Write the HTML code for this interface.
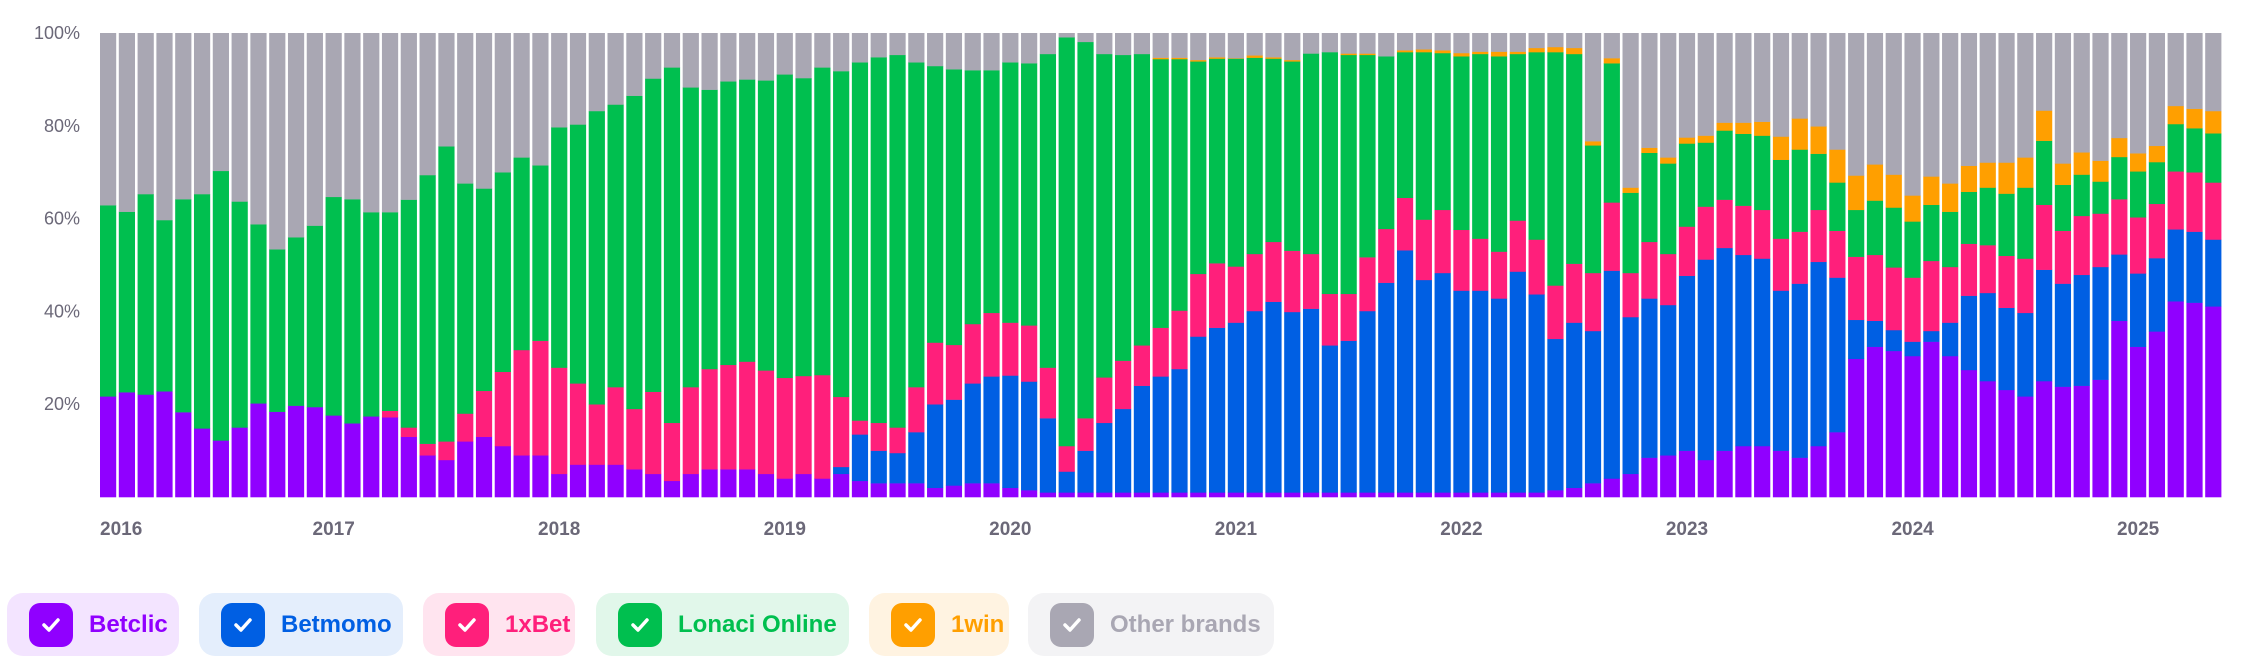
<!DOCTYPE html>
<html><head><meta charset="utf-8">
<style>
html,body{margin:0;padding:0;background:#fff;width:2242px;height:664px;overflow:hidden;font-family:"Liberation Sans",sans-serif;}
#c{position:absolute;left:0;top:0;}
.leg{position:absolute;top:593px;height:63px;border-radius:16px;display:flex;align-items:center;box-sizing:border-box;padding-left:22px;font-weight:bold;font-size:24px;}
.cb{width:44px;height:44px;border-radius:11px;margin-right:16px;display:flex;align-items:center;justify-content:center;}
</style></head><body>
<svg id="c" width="2242" height="664" xmlns="http://www.w3.org/2000/svg"></svg>
<div class="leg" style="left:7px;width:172px;background:#f3e4ff;color:#9000ff"><div class="cb" style="background:#9000ff"><svg width="24" height="24"><path d="M5 12l5 5 9-10" stroke="#fff" stroke-width="3.5" fill="none" stroke-linecap="round" stroke-linejoin="round"/></svg></div>Betclic</div>
<div class="leg" style="left:199px;width:204px;background:#e4eefc;color:#005fe3"><div class="cb" style="background:#005fe3"><svg width="24" height="24"><path d="M5 12l5 5 9-10" stroke="#fff" stroke-width="3.5" fill="none" stroke-linecap="round" stroke-linejoin="round"/></svg></div>Betmomo</div>
<div class="leg" style="left:423px;width:152px;background:#ffe4ef;color:#ff1f7b"><div class="cb" style="background:#ff1f7b"><svg width="24" height="24"><path d="M5 12l5 5 9-10" stroke="#fff" stroke-width="3.5" fill="none" stroke-linecap="round" stroke-linejoin="round"/></svg></div>1xBet</div>
<div class="leg" style="left:596px;width:253px;background:#e1f7ea;color:#00bf4f"><div class="cb" style="background:#00bf4f"><svg width="24" height="24"><path d="M5 12l5 5 9-10" stroke="#fff" stroke-width="3.5" fill="none" stroke-linecap="round" stroke-linejoin="round"/></svg></div>Lonaci Online</div>
<div class="leg" style="left:869px;width:140px;background:#fff3e1;color:#ff9f00"><div class="cb" style="background:#ff9f00"><svg width="24" height="24"><path d="M5 12l5 5 9-10" stroke="#fff" stroke-width="3.5" fill="none" stroke-linecap="round" stroke-linejoin="round"/></svg></div>1win</div>
<div class="leg" style="left:1028px;width:246px;background:#f3f3f5;color:#a9a7b3"><div class="cb" style="background:#a9a7b3"><svg width="24" height="24"><path d="M5 12l5 5 9-10" stroke="#fff" stroke-width="3.5" fill="none" stroke-linecap="round" stroke-linejoin="round"/></svg></div>Other brands</div>
<script>
// [purple, blueTop, pinkTop, greenTop, orangeTop]
var D=[
[21.7,21.7,21.7,62.9,62.9],[22.6,22.6,22.6,61.5,61.5],[22.1,22.1,22.1,65.3,65.3],[22.8,22.8,22.8,59.7,59.7],
[18.3,18.3,18.3,64.2,64.2],[14.8,14.8,14.8,65.3,65.3],[12.2,12.2,12.2,70.3,70.3],[15,15,15,63.7,63.7],
[20.2,20.2,20.2,58.8,58.8],[18.4,18.4,18.4,53.4,53.4],[19.7,19.7,19.7,56,56],[19.4,19.4,19.4,58.5,58.5],
[17.6,17.6,17.6,64.7,64.7],[15.9,15.9,15.9,64.2,64.2],[17.4,17.4,17.4,61.4,61.4],[17.2,17.2,18.6,61.4,61.4],
[13,13,15,64.1,64.1],[9,9,11.5,69.4,69.4],[8,8,12,75.6,75.6],[12,12,18,67.6,67.6],
[13,13,22.9,66.5,66.5],[11,11,27,70,70],[9,9,31.7,73.2,73.2],[9,9,33.7,71.5,71.5],
[5,5,27.9,79.7,79.7],[7,7,24.5,80.3,80.3],[7,7,20,83.2,83.2],[7,7,23.7,84.6,84.6],
[6,6,19,86.5,86.5],[5,5,22.7,90.2,90.2],[3.5,3.5,16,92.6,92.6],[5,5,23.7,88.3,88.3],
[6,6,27.6,87.8,87.8],[6,6,28.5,89.6,89.6],[6,6,29.2,90,90],[5,5,27.3,89.8,89.8],
[4,4,25.7,91.1,91.1],[5,5,26.1,90.3,90.3],[4,4,26.3,92.6,92.6],[5,6.5,21.6,91.8,91.8],
[3.5,13.5,16.5,93.7,93.7],[3,10,16,94.8,94.8],[3,9.5,15,95.3,95.3],[3,14,23.7,93.7,93.7],
[2,20,33.3,92.9,92.9],[2.5,21,32.8,92.2,92.2],[3,24.5,37.3,92,92],[3,26,39.7,92,92],
[2,26.2,37.6,93.7,93.7],[1.5,24.9,37,93.5,93.5],[1,17,27.9,95.5,95.5],[1,5.5,11,99.1,99.1],
[1,10,17,98.1,98.1],[1,16,25.8,95.5,95.5],[1,19,29.4,95.3,95.3],[1,24,32.7,95.5,95.5],
[1,26,36.5,94.4,94.7],[1,27.6,40.2,94.4,94.7],[1,34.6,48.1,93.9,94.2],[1,36.5,50.4,94.5,94.8],
[1,37.6,49.7,94.5,94.6],[1,40.1,52.4,94.7,95.2],[1,42.1,55,94.5,94.8],[1,39.9,53.1,93.9,94.2],
[1,40.6,52.4,95.6,95.6],[1,32.7,43.8,95.9,95.9],[1,33.7,43.8,95.3,95.6],[1,40.1,51.7,95.3,95.6],
[1,46.2,57.8,95,95],[1,53.2,64.5,95.9,96.3],[1,46.8,59.8,95.9,96.5],[1,48.3,61.9,95.7,96.3],
[1,44.5,57.6,95,95.7],[1,44.5,55.7,95.5,96],[1,42.8,52.9,95,96],[1,48.6,59.6,95.5,96],
[1,43.7,55.5,95.9,96.8],[1.5,34.1,45.6,95.9,97],[2,37.6,50.3,95.5,96.8],[3,35.8,48.3,75.8,76.7],
[4,48.8,63.5,93.5,94.6],[5,38.8,48.3,65.6,66.7],[8.5,42.8,55,74.2,75.3],[9,41.4,52.4,71.9,73.2],
[10,47.7,58.3,76.2,77.5],[8,51.2,62.6,76.4,77.9],[10,53.7,64.1,79,80.7],[11,52.2,62.8,78.3,80.7],
[11,51.4,61.9,77.9,80.9],[10,44.5,55.7,72.7,77.7],[8.5,46,57.2,74.9,81.6],[11,50.7,61.9,74,79.9],
[14,47.3,57.4,67.8,74.9],[29.8,38.2,51.8,61.9,69.3],[32.4,38,52.2,63.9,71.7],[31.5,36,49.5,62.4,69.5],
[30.4,33.5,47.3,59.4,65],[33.5,35.8,50.9,63,69.1],[30.4,37.6,49.6,61.5,67.6],[27.4,43.4,54.6,65.8,71.4],
[25,44,54.3,66.7,72.1],[23.1,40.8,52,65.4,72.1],[21.7,39.7,51.4,66.7,73.2],[25,49,63,76.8,83.3],
[23.8,46,57.4,67.3,71.9],[24,47.9,60.6,69.5,74.3],[25.3,49.6,61.1,68,72.5],[38,52.3,64.2,73.3,77.4],
[32.4,48.2,60.3,70.2,74.1],[35.7,51.5,63.2,72.2,75.7],[42.2,57.7,70.2,80.4,84.3],[41.9,57.2,70,79.5,83.7],
[41.1,55.5,67.8,78.4,83.2]];
var C=["#9000ff","#005fe3","#ff1f7b","#00bf4f","#ff9f00","#a9a7b3"];
var s=document.getElementById('c'),h='';
var L=100,R=2224,T=33,B=497,P=(R-L)/113,W=P-2.6,k=(B-T)/100;
function Y(v){return B-v*k;}
for(var i=0;i<D.length;i++){
  var d=D[i],x=L+i*P,prev=0,vals=[d[0],d[1],d[2],d[3],d[4],100];
  for(var j=0;j<6;j++){var v=vals[j];if(v>prev+0.01){h+='<rect x="'+x.toFixed(2)+'" y="'+Y(v).toFixed(2)+'" width="'+W.toFixed(2)+'" height="'+((v-prev)*k+0.3).toFixed(2)+'" fill="'+C[j]+'"/>';}prev=Math.max(prev,v);}
}
var yl=['100%','80%','60%','40%','20%'];
for(var q=0;q<5;q++){h+='<text x="80" y="'+(Y(100-q*20)+6)+'" text-anchor="end" font-family="Liberation Sans, sans-serif" font-size="18" fill="#6b6878">'+yl[q]+'</text>';}
var yrs=['2016','2017','2018','2019','2020','2021','2022','2023','2024','2025'];
for(var t=0;t<10;t++){var cx=L+t*12*P+W/2;
  if(t==0)h+='<text x="100" y="535" font-family="Liberation Sans, sans-serif" font-weight="bold" font-size="19" fill="#6b6878">2016</text>';
  else h+='<text x="'+cx.toFixed(1)+'" y="535" text-anchor="middle" font-family="Liberation Sans, sans-serif" font-weight="bold" font-size="19" fill="#6b6878">'+yrs[t]+'</text>';}
s.innerHTML=h;
</script>
</body></html>
